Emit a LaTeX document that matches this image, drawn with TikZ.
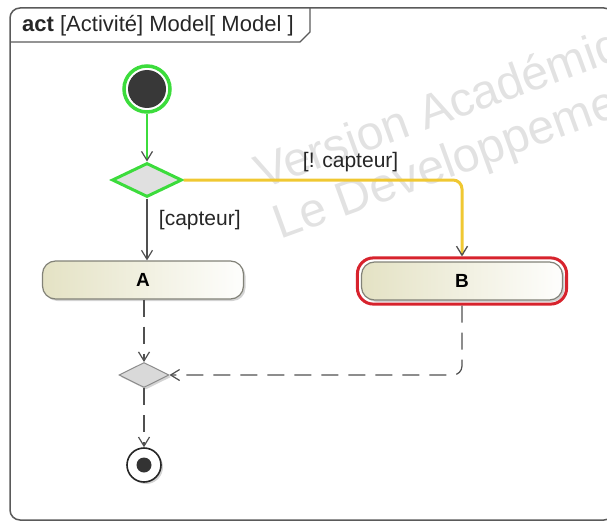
\documentclass[tikz,border=0pt]{standalone}
\usepackage{fontspec}
\setmainfont{Liberation Sans}
\usetikzlibrary{arrows.meta,shapes.geometric,shadows,fit}
\definecolor{selgreen}{RGB}{60,220,60}
\definecolor{flowyellow}{RGB}{240,200,50}
\definecolor{selred}{RGB}{215,35,45}
\definecolor{framegray}{RGB}{90,90,90}
\definecolor{linegray}{RGB}{80,80,80}
\definecolor{actfill}{RGB}{228,226,196}
\definecolor{actborder}{RGB}{130,130,120}
\definecolor{wmgray}{RGB}{226,226,226}
\tikzset{
  lbl/.style={font=\fontsize{21}{23}\selectfont, text=black!85},
  actionbox/.style={rectangle, rounded corners=13pt, minimum width=201pt, minimum height=38pt,
    draw=actborder, line width=1.2pt, left color=actfill, right color=white!96!actfill,
    drop shadow={shadow xshift=2pt, shadow yshift=-2pt, opacity=0.35},
    font=\fontsize{19}{22}\selectfont\bfseries, inner sep=0pt},
  decisionbox/.style={diamond, aspect=2, inner sep=0pt},
  flow/.style={draw=linegray, line width=1.2pt, -{Straight Barb[length=9pt,width=11pt,line width=1.2pt]}},
  dflow/.style={flow, dash pattern=on 17pt off 10pt},
  wm/.style={text=wmgray, font=\fontsize{48}{52}\selectfont, rotate=20, anchor=base west, inner sep=0pt}
}
\begin{document}
\begin{tikzpicture}[x=1pt,y=-1pt]
\useasboundingbox (0,0) rectangle (607,524);
% watermark
\begin{scope}
\clip (0,0) rectangle (607,524);
\node[wm] (wm1) at (262,190) {Version Académique};
\node[wm] (wm2) at (280,240) {Le Developpement};
\end{scope}
% frame
\draw[framegray, line width=1.5pt, rounded corners=10pt] (10,8) -- (614,8) -- (614,520) -- (10,520) -- cycle;
\draw[framegray, line width=1.3pt] (10,42) -- (300,42) -- (310,32) -- (310,8);
\node[anchor=west, font=\fontsize{22}{24}\selectfont, text=black!85, inner sep=0pt] (title) at (22,26)
  {\textbf{act} [Activité] Model[ Model ]};
% initial node
\node[circle, minimum size=46pt, inner sep=0pt, fill=white, draw=selgreen, line width=3.5pt] (init) at (147,89) {};
\node[circle, minimum size=38pt, inner sep=0pt, fill=black!78] (initdot) at (init.center) {};
% decision
\node[decisionbox, minimum width=70pt, minimum height=34pt, fill=black!12, draw=selgreen, line width=3pt] (dec) at (147,180) {};
% actions
\node[actionbox] (A) at (143,280) {A};
\node[actionbox] (B) at (462,281) {B};
\node[fit=(B), inner sep=3.5pt, draw=selred, line width=3pt, rounded corners=16pt] (Bsel) {};
% merge
\node[decisionbox, minimum width=50pt, minimum height=25pt, fill=black!15, draw=black!45, line width=1pt,
  drop shadow={shadow xshift=2pt, shadow yshift=-2pt, opacity=0.35}] (merge) at (144,375) {};
% final
\node[circle, minimum size=34pt, inner sep=0pt, fill=white, draw=black!85, line width=1.6pt,
  drop shadow={shadow xshift=2pt, shadow yshift=-2pt, opacity=0.35}] (final) at (144,465) {};
\node[circle, minimum size=15pt, inner sep=0pt, fill=black!80] (finaldot) at (final.center) {};
\coordinate (bcorner) at (462,180);
\coordinate (dcorner) at (462,375);
% connectors
\draw[draw=selgreen, line width=2.5pt, -{Straight Barb[length=9pt,width=11pt,line width=1.2pt,color=linegray]}] (init) -- (dec.north);
\draw[flow] (dec.south) -- node[lbl, pos=0.35, anchor=west, xshift=8pt] (lcapt) {[capteur]} (dec.south |- A.north);
\draw[draw=flowyellow, line width=3pt, rounded corners=9pt, -{Straight Barb[length=9pt,width=11pt,line width=1.3pt,color=linegray]}]
  (dec.east) -- node[lbl, pos=0.6, anchor=south, yshift=3pt] (lncapt) {[! capteur]} (bcorner) -- (Bsel.north);
\draw[dflow] (merge.north |- A.south) -- (merge.north);
\draw[dflow, rounded corners=9pt] (Bsel.south) -- (dcorner) -- (merge.east);
\draw[dflow] (merge.south) -- (final.north);
\end{tikzpicture}
\end{document}
